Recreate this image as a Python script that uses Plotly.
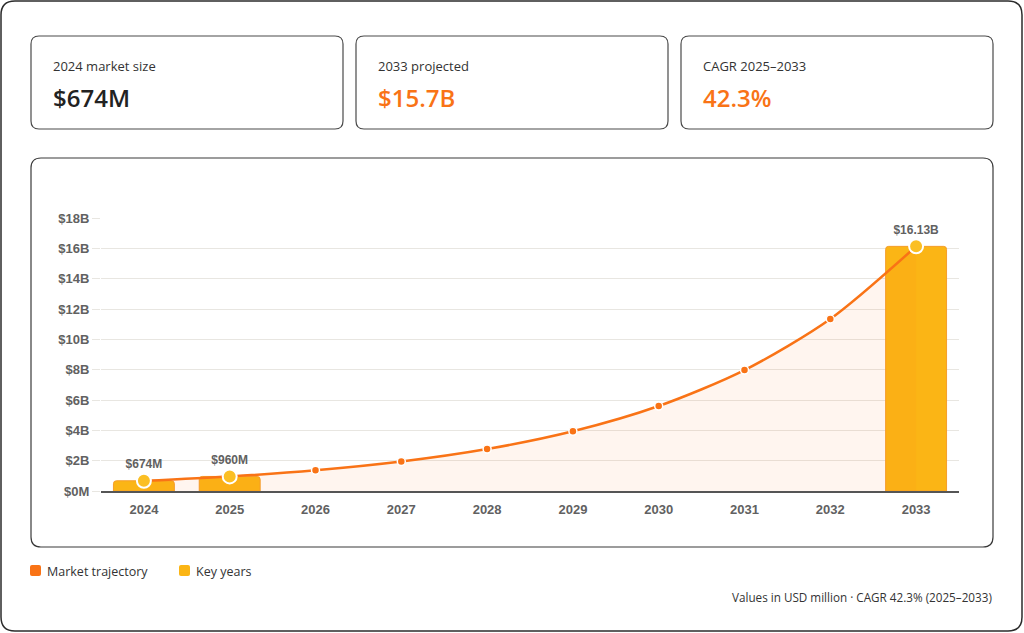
import plotly.graph_objects as go

# ---------------- data ----------------
years = ["2024", "2025", "2026", "2027", "2028", "2029", "2030", "2031", "2032", "2033"]
market_musd = [674, 960, 1366, 1944, 2766, 3936, 5601, 7970, 11341, 16130]
key_years = ["2024", "2025", "2033"]
key_values = [674, 960, 16130]
key_labels = ["$674M", "$960M", "$16.13B"]
y_tickvals = [0, 2000, 4000, 6000, 8000, 10000, 12000, 14000, 16000, 18000]
y_ticktext = ["$0M", "$2B", "$4B", "$6B", "$8B", "$10B", "$12B", "$14B", "$16B", "$18B"]
kpi_labels = ["2024 market size", "2033 projected", "CAGR 2025\u20132033"]
kpi_values = ["$674M", "$15.7B", "42.3%"]
legend_labels = ["Market trajectory", "Key years"]
footer_text = "Values in USD million \u00b7 CAGR 42.3% (2025\u20132033)"

# ---------------- style ----------------
W, H = 1024, 633
ORANGE = "#F97316"
AMBER = "#FBB515"
TEXT = "#333333"
TICK = "#616161"
UI_FONT = "Open Sans"
CHART_FONT = "Liberation Sans"


def px(x):
    return x / W


def py(y):
    return 1 - y / H


def rounded_rect(x0, y0, x1, y1, r, color, width, fill="rgba(0,0,0,0)"):
    rx, ry = r / W, r / H
    X0, X1 = px(x0), px(x1)
    Y0, Y1 = py(y0), py(y1)  # Y0 top (larger), Y1 bottom
    path = (
        f"M {X0 + rx},{Y0} L {X1 - rx},{Y0} Q {X1},{Y0} {X1},{Y0 - ry} "
        f"L {X1},{Y1 + ry} Q {X1},{Y1} {X1 - rx},{Y1} "
        f"L {X0 + rx},{Y1} Q {X0},{Y1} {X0},{Y1 + ry} "
        f"L {X0},{Y0 - ry} Q {X0},{Y0} {X0 + rx},{Y0} Z"
    )
    return dict(type="path", path=path, xref="paper", yref="paper",
                line=dict(color=color, width=width), fillcolor=fill, layer="below")


fig = go.Figure()

# key-year bars
fig.add_trace(go.Bar(
    x=key_years, y=key_values, width=0.71,
    marker=dict(color=AMBER, line=dict(color="#F59E2B", width=1), cornerradius=3),
    hoverinfo="skip", showlegend=False,
))

# area + trajectory line
fig.add_trace(go.Scatter(
    x=years, y=market_musd, mode="lines+markers",
    line=dict(color=ORANGE, width=2.5, shape="spline", smoothing=0.8),
    fill="tozeroy", fillcolor="rgba(249,115,22,0.07)",
    marker=dict(size=8, color=ORANGE, line=dict(color="white", width=1.5)),
    hoverinfo="skip", showlegend=False,
))

# key-year markers with value labels
fig.add_trace(go.Scatter(
    x=key_years, y=key_values, mode="markers+text",
    text=key_labels, textposition="top center",
    textfont=dict(family=CHART_FONT, size=12, color=TICK, weight="bold"),
    marker=dict(size=14, color="#FBBF24", line=dict(color="white", width=2)),
    hoverinfo="skip", showlegend=False, cliponaxis=False,
))

annotations = []
shapes = []
# outer frame
shapes.append(rounded_rect(1, 1, 1022, 631, 14, "#2b2b2b", 1.5))
# KPI cards
card_x = [(31, 343), (356, 668), (681, 993)]
for i, (x0, x1) in enumerate(card_x):
    shapes.append(rounded_rect(x0, 36, x1, 129, 8, "#4a4a4a", 1.2))
    annotations.append(dict(x=px(x0 + 20), y=py(66), xref="paper", yref="paper",
                            text=kpi_labels[i], showarrow=False, xanchor="left", yanchor="middle",
                            font=dict(family=UI_FONT, size=13, color=TEXT)))
    annotations.append(dict(x=px(x0 + 20), y=py(97), xref="paper", yref="paper",
                            text=kpi_values[i], showarrow=False, xanchor="left", yanchor="middle",
                            font=dict(family=UI_FONT, size=24, weight=600,
                                      color="#222222" if i == 0 else ORANGE)))
# chart card
shapes.append(rounded_rect(31, 158, 993, 547, 10, "#3a3a3a", 1.2))

# legend
leg_x = [30, 179]
leg_colors = [ORANGE, AMBER]
for lx, lc, lt in zip(leg_x, leg_colors, legend_labels):
    shapes.append(rounded_rect(lx, 565, lx + 11, 576, 2, lc, 0, fill=lc))
    annotations.append(dict(x=px(lx + 15), y=py(571), xref="paper", yref="paper",
                            text=lt, showarrow=False, xanchor="left", yanchor="middle",
                            font=dict(family=UI_FONT, size=12.5, color=TEXT)))

# footer
annotations.append(dict(x=px(994), y=py(597), xref="paper", yref="paper",
                        text=footer_text, showarrow=False, xanchor="right", yanchor="middle",
                        font=dict(family=UI_FONT, size=11.7, color=TEXT)))

fig.update_layout(
    width=W, height=H,
    margin=dict(l=0, r=0, t=0, b=0, autoexpand=False),
    paper_bgcolor="white", plot_bgcolor="white",
    shapes=shapes, annotations=annotations,
    showlegend=False, bargap=0.29,
    xaxis=dict(
        domain=[px(101), px(959)],
        type="category", categoryorder="array", categoryarray=years,
        range=[-0.5, 9.5],
        showgrid=False, showline=True, linecolor="#555555", linewidth=1.5,
        ticks="", tickfont=dict(family=CHART_FONT, size=13, color=TICK, weight="bold"),
        ticklabelstandoff=6, fixedrange=True,
    ),
    yaxis=dict(
        domain=[py(491), py(218)],
        range=[0, 18000],
        tickvals=y_tickvals, ticktext=y_ticktext,
        showgrid=True, gridcolor="#E8E6E1", gridwidth=1,
        zeroline=False, showline=False,
        ticks="outside", ticklen=8, tickcolor="#E8E6E1",
        tickfont=dict(family=CHART_FONT, size=13, color=TICK, weight="bold"),
        fixedrange=True,
    ),
)

fig.write_html("out.html")
